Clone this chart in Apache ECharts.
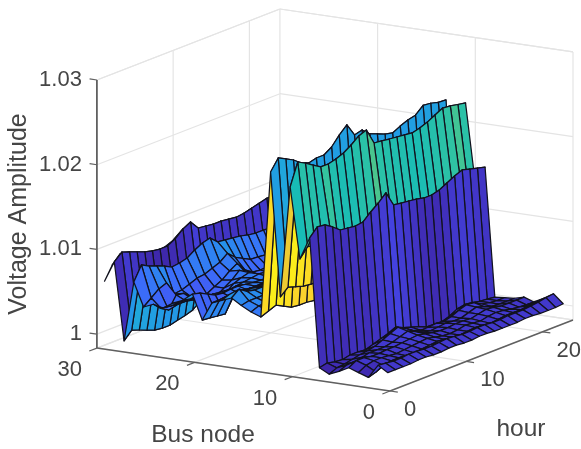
<!DOCTYPE html>
<html><head><meta charset="utf-8">
<style>html,body{margin:0;padding:0;background:#fff}#main{width:581px;height:449px;filter:blur(0.5px)}</style>
<script src="https://cdn.jsdelivr.net/npm/echarts@6/dist/echarts.min.js"></script>
</head><body><div id="main"></div>
<script>
const hours=[1,2,3,4,5,6,7,8,9,10,11,12,13,14,15,16,17,18,19,20,21,22,23,24];
const zTicks=[1,1.01,1.02,1.03], busTicks=[0,10,20,30], hourTicks=[0,10,20];
const zLabels=['1','1.01','1.02','1.03'];
const bus01=[1.0000,1.0000,1.0000,1.0000,1.0001,1.0001,1.0000,1.0000,1.0001,1.0001,1.0000,1.0000,1.0001,1.0001,1.0000,1.0000,1.0000,1.0000,1.0001,1.0001,1.0000,1.0000,1.0000,1.0001];
const bus02=[1.0007,1.0006,1.0005,1.0005,1.0006,1.0006,1.0005,1.0005,1.0006,1.0007,1.0006,1.0005,1.0005,1.0006,1.0006,1.0005,1.0005,1.0006,1.0006,1.0006,1.0007,1.0008,1.0010,1.0011];
const bus03=[.9991,.9994,.9998,1.0000,1.0000,.9999,.9999,1.0000,1.0001,1.0002,1.0001,1.0000,.9999,1.0000,1.0001,1.0000,.9999,1.0000,1.0001,1.0001,1.0001,1.0002,1.0003,1.0004];
const bus04=[.9995,1.0000,1.0002,1.0002,1.0001,1.0000,1.0001,1.0002,1.0003,1.0004,1.0002,1.0000,.9999,1.0000,1.0002,1.0001,1.0000,1.0002,1.0003,1.0002,1.0000,.9999,.9998,.9998];
const bus05=[.9999,1.0004,1.0004,1.0002,1.0002,1.0003,1.0003,1.0004,1.0005,1.0006,1.0004,1.0002,1.0001,1.0001,1.0002,1.0002,1.0001,1.0003,1.0005,1.0004,1.0002,1.0002,1.0002,1.0002];
const bus06=[.9993,.9997,.9997,.9999,1.0001,1.0001,1.0001,1.0003,1.0006,1.0009,1.0005,1.0001,.9999,1.0000,1.0001,1.0000,1.0000,1.0003,1.0006,1.0003,1.0000,.9999,.9999,.9999];
const bus07=[.9988,.9992,.9993,.9995,.9997,.9998,1.0000,1.0004,1.0008,1.0012,1.0007,1.0001,.9998,.9998,.9999,.9998,1.0000,1.0004,1.0007,1.0006,1.0001,.9999,.9998,.9998];
const bus08=[.9994,.9996,.9994,.9993,.9995,.9995,.9994,.9997,1.0000,1.0003,1.0007,1.0003,1.0000,.9997,.9993,.9992,.9992,.9995,1.0000,1.0002,1.0001,.9999,.9998,.9997];
const bus09=[1.01455,1.0155,1.0154,1.0148,1.01409,1.01398,1.01386,1.01399,1.01482,1.01553,1.01637,1.0146,1.01448,1.01437,1.01425,1.01403,1.01403,1.01427,1.01475,1.01522,1.01559,1.01535,1.01512,1.01488];
const bus10=[1.0119,1.0130,1.0128,1.0125,1.0138,1.0125,1.0122,1.0122,1.0128,1.0132,1.0145,1.0132,1.0128,1.0125,1.0125,1.0122,1.0122,1.0125,1.0128,1.0132,1.0135,1.0142,1.0132,1.0128];
const bus11=[1.02023,1.02283,1.02236,1.02177,1.0212,1.0212,1.02144,1.0218,1.02239,1.02311,1.02346,1.02158,1.02147,1.02135,1.02124,1.02113,1.02102,1.02125,1.0216,1.02209,1.02256,1.02246,1.02228,1.02212];
const bus12=[1.0071,1.0079,1.0076,1.0073,1.0072,1.0072,1.0071,1.0070,1.0071,1.0072,1.0073,1.0071,1.0070,1.0070,1.0070,1.0069,1.0069,1.0070,1.0071,1.0072,1.0073,1.0073,1.0072,1.0072];
const bus13=[1.02166,1.02297,1.0225,1.02203,1.02133,1.02098,1.02122,1.02122,1.02182,1.02288,1.02372,1.02219,1.02243,1.02161,1.02126,1.0209,1.02068,1.02114,1.0215,1.02173,1.02255,1.02244,1.0222,1.02213];
const bus14=[1.00437,1.00473,1.00508,1.00461,1.00414,1.00402,1.00402,1.0039,1.0040,1.0041,1.0042,1.0040,1.0040,1.0039,1.0039,1.0038,1.0038,1.0039,1.0040,1.0041,1.0042,1.0042,1.0041,1.0041];
const bus15=[1.0048,1.00515,1.0052,1.0051,1.0049,1.0048,1.0047,1.0046,1.0045,1.0045,1.0046,1.0044,1.0044,1.0043,1.0043,1.0042,1.0042,1.0043,1.0044,1.0045,1.0045,1.0045,1.0044,1.0044];
const bus16=[1.0054,1.0056,1.0056,1.0056,1.0055,1.0053,1.0052,1.0051,1.0050,1.0050,1.0050,1.0048,1.0048,1.0047,1.0046,1.0046,1.0045,1.0046,1.0047,1.0048,1.0048,1.0048,1.0047,1.0047];
const bus17=[1.00611,1.0068,1.0062,1.0060,1.0060,1.0059,1.0058,1.0056,1.0054,1.0052,1.0050,1.0048,1.0048,1.0047,1.0046,1.0046,1.0045,1.0046,1.0047,1.0048,1.0048,1.0048,1.0047,1.0047];
const bus18=[1.00567,1.0060,1.0058,1.0057,1.0057,1.0056,1.0055,1.0054,1.0052,1.0050,1.0049,1.0047,1.0046,1.0045,1.0045,1.0044,1.0044,1.0045,1.0046,1.0047,1.0047,1.0047,1.0046,1.0046];
const bus19=[1.0052,1.0052,1.0053,1.0054,1.0053,1.0052,1.0051,1.0050,1.0050,1.0048,1.0047,1.0045,1.0044,1.0043,1.0043,1.0042,1.0042,1.0043,1.0044,1.0045,1.0045,1.0045,1.0044,1.0044];
const bus20=[1.0030,1.0029,1.00278,1.00267,1.0042,1.00432,1.00445,1.00457,1.0046,1.0046,1.0047,1.0044,1.0042,1.0041,1.0041,1.0040,1.0040,1.0041,1.0042,1.0043,1.0043,1.0043,1.0042,1.0042];
const bus21=[1.0059,1.00567,1.0052,1.00473,1.00461,1.00473,1.00473,1.00461,1.00449,1.0044,1.0044,1.0042,1.0040,1.0039,1.0039,1.0038,1.0038,1.0039,1.0040,1.0041,1.0041,1.0041,1.0040,1.0040];
const bus22=[1.0050,1.0048,1.00457,1.00445,1.00433,1.00423,1.00411,1.00424,1.00436,1.00449,1.00461,1.0045,1.0044,1.0043,1.0042,1.0042,1.0041,1.0042,1.0043,1.0044,1.0044,1.0044,1.0043,1.0043];
const bus23=[1.00449,1.00425,1.00414,1.00425,1.00366,1.00331,1.00307,1.00331,1.00402,1.00437,1.00461,1.00366,1.00307,1.0031,1.0031,1.0030,1.0030,1.0031,1.0032,1.0033,1.0033,1.0033,1.0032,1.0032];
const bus24=[1.00375,1.00365,1.00352,1.00352,1.0033,1.00294,1.00295,1.00272,1.00331,1.0039,1.0047,1.0039,1.00331,1.00295,1.0030,1.0030,1.0030,1.0030,1.0031,1.0032,1.0032,1.0032,1.0031,1.0031];
const bus25=[1.00402,1.00319,1.00265,1.00406,1.0039,1.00313,1.00242,1.00279,1.0033,1.00373,1.00445,1.0050,1.00388,1.00328,1.00317,1.0032,1.0032,1.0032,1.0033,1.0034,1.0034,1.0034,1.0033,1.0033];
const bus26=[1.00353,1.00424,1.00496,1.00532,1.00366,1.00378,1.00413,1.00449,1.0046,1.00496,1.00532,1.00602,1.0052,1.00473,1.00425,1.0042,1.00408,1.0040,1.0040,1.0041,1.0041,1.0041,1.0040,1.0040];
const bus27=[1.00631,1.00797,1.0075,1.00716,1.0068,1.00633,1.00646,1.0067,1.0073,1.00777,1.0080,1.0072,1.00708,1.00697,1.00685,1.00662,1.0065,1.0065,1.0064,1.0064,1.0064,1.0063,1.0063,1.0062];
const bus28=[.9992,1.00012,.9998,.99941,.99906,.99894,.99894,.99918,.9994,.9997,1.0004,.9999,.9998,.9997,.9998,.9997,.9996,.9998,.9999,1.0000,.9999,.9999,.9998,.9998];
const bus29=[1.00834,1.00916,1.00882,1.00847,1.00812,1.0079,1.00777,1.0078,1.00827,1.00909,1.00957,1.0085,1.00839,1.00827,1.00827,1.00815,1.00803,1.00815,1.00839,1.00862,1.00886,1.0089,1.0088,1.0087];
const bus30=[1.0059,1.00744,1.0084,1.0076,1.0072,1.0070,1.0069,1.0070,1.0072,1.0076,1.0080,1.0075,1.0074,1.0073,1.0073,1.0072,1.0071,1.0072,1.0074,1.0076,1.0078,1.0079,1.0078,1.0077];
const voltage=[bus01,bus02,bus03,bus04,bus05,bus06,bus07,bus08,bus09,bus10,bus11,bus12,bus13,bus14,bus15,bus16,bus17,bus18,bus19,bus20,bus21,bus22,bus23,bus24,bus25,bus26,bus27,bus28,bus29,bus30];

const F=.99835, ZMAX=1.03;
const cmin=.9988,cmax=1.0237;
const stops=[[0,62,38,168],[.1,70,75,240],[.2,58,112,250],[.3,35,150,232],[.4,30,175,215],[.5,15,185,190],[.6,50,195,160],[.7,130,200,100],[.8,205,195,55],[.88,248,205,48],[.94,252,225,32],[1,249,251,20]];
function colour(z){let t=Math.max(0,Math.min(1,(z-cmin)/(cmax-cmin)));
  for(let i=1;i<stops.length;i++){if(t<=stops[i][0]){const a=stops[i-1],b=stops[i],u=(t-a[0])/(b[0]-a[0]);
    return `rgb(${[1,2,3].map(k=>Math.round(a[k]+(b[k]-a[k])*u)).join(',')})`;}}return 'rgb(249,251,20)';}
function proj(b,h,z){return [390+7.625*h-9.77*b,391-2.96*h-1.43*b-(z-F)*8470];}

const faces=[];
for(let b=voltage.length-2;b>=0;b--)for(let h=hours.length-2;h>=0;h--)faces.push([b,h]);

const grey='#e4e4e4',dark='#606060';
const segs=[];
zTicks.concat([ZMAX]).forEach(z=>{segs.push([30,0,z,30,24,z,grey]);segs.push([30,24,z,0,24,z,grey]);});
segs.push([30,0,F,30,24,F,grey]);segs.push([30,24,F,0,24,F,grey]);
hourTicks.concat([24]).forEach(h=>{if(h)segs.push([30,h,F,30,h,ZMAX,grey]);segs.push([30,h,F,0,h,F,grey]);});
busTicks.forEach(b=>{if(b<30)segs.push([b,24,F,b,24,ZMAX,grey]);segs.push([b,0,F,b,24,F,grey]);});
const axisSegs=[[30,0,F,30,0,ZMAX,dark,1.8],[30,0,F,0,0,F,dark,1.5],[0,0,F,0,24,F,dark,1.5]];
zTicks.forEach(z=>axisSegs.push([30,0,z,30.75,0,z,dark,1.2]));
busTicks.forEach(b=>axisSegs.push([b,0,F,b,-1,F,dark,1.2]));
hourTicks.forEach(h=>axisSegs.push([0,h,F,-.8,h,F,dark,1.2]));

const texts=[];
zTicks.forEach((z,i)=>{const p=proj(30,0,z);texts.push([p[0]-15,p[1],zLabels[i],'right',22,0]);});
busTicks.forEach(b=>{const p=proj(b,0,F);texts.push([p[0]-15,p[1]+22,String(b),'right',22,0]);});
hourTicks.forEach(h=>{const p=proj(0,h,F);texts.push([p[0]+14,p[1]+19,String(h),'left',22,0]);});
texts.push([19,214,'Voltage Amplitude','center',25,Math.PI/2]);
texts.push([203,435,'Bus node','center',24.5,0]);
texts.push([521,429,'hour','center',24.5,0]);

const lineItem=(s,api)=>{const a=api.coord(proj(s[0],s[1],s[2])),b=api.coord(proj(s[3],s[4],s[5]));
  return {type:'line',shape:{x1:a[0],y1:a[1],x2:b[0],y2:b[1]},style:{stroke:s[6],lineWidth:s[7]||1.2}};};
const chart=echarts.init(document.getElementById('main'),null,{renderer:'canvas'});
chart.setOption({animation:false,backgroundColor:'#fff',
 grid:{left:0,right:0,top:0,bottom:0},
 xAxis:{type:'value',min:0,max:581,show:false},
 yAxis:{type:'value',min:0,max:449,inverse:true,show:false},
 series:[
  {type:'custom',coordinateSystem:'cartesian2d',silent:true,z:1,clip:false,data:segs.map((s,i)=>[i,0]),encode:{x:0,y:1},
   renderItem:(p,api)=>lineItem(segs[api.value(0)],api)},
  {type:'custom',coordinateSystem:'cartesian2d',silent:true,z:2,clip:false,data:axisSegs.map((s,i)=>[i,0]),encode:{x:0,y:1},
   renderItem:(p,api)=>lineItem(axisSegs[api.value(0)],api)},
  {type:'custom',coordinateSystem:'cartesian2d',silent:true,z:3,clip:false,data:faces,encode:{x:0,y:1},
   renderItem:(p,api)=>{const b=api.value(0),h=api.value(1);
     const pt=(i,j)=>api.coord(proj(i+1,hours[j],voltage[i][j]));
     return {type:'polygon',shape:{points:[pt(b,h),pt(b,h+1),pt(b+1,h+1),pt(b+1,h)]},
       style:{fill:colour(voltage[b][h]),stroke:'#12121e',lineWidth:1.25,lineJoin:'round'}};}},
  {type:'custom',coordinateSystem:'cartesian2d',silent:true,z:4,clip:false,data:texts.map((t,i)=>[i,0]),encode:{x:0,y:1},
   renderItem:(p,api)=>{const t=texts[api.value(0)],c=api.coord([t[0],t[1]]);
     return {type:'text',x:c[0],y:c[1],rotation:t[5],style:{text:t[2],fill:'#454545',font:t[4]+'px "Liberation Sans", Arial, sans-serif',textAlign:t[3],textVerticalAlign:'middle'}};}}
 ]});
</script></body></html>
